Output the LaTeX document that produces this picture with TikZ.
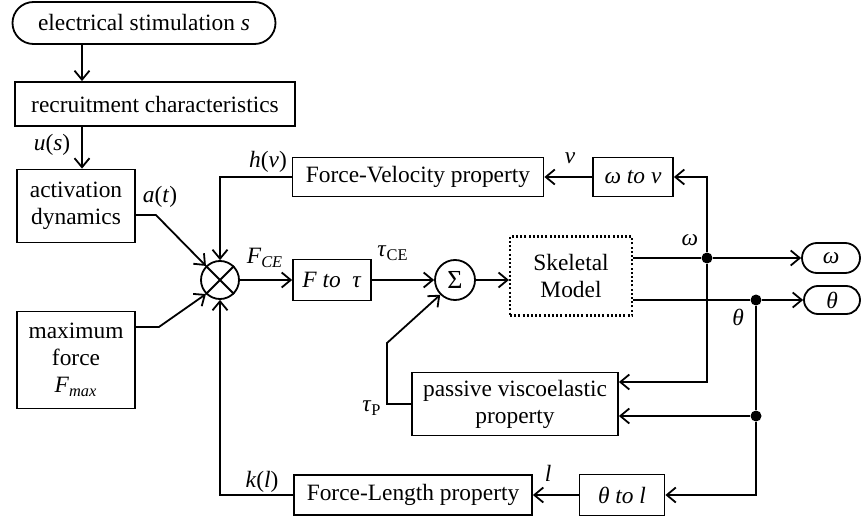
\documentclass[tikz,border=0pt]{standalone}
\usepackage{fontspec}
\setmainfont{Liberation Serif}
\usetikzlibrary{arrows.meta,calc}

\begin{document}
\begin{tikzpicture}[x=0.5pt,y=-0.5pt,line width=0.9pt]
\tikzset{block/.style = {shape=rectangle,draw,inner sep=1pt,align=center,font=\fontsize{11.7}{13.5}\selectfont}}
\tikzset{op/.style = {shape=circle,draw,inner sep=0pt,font=\fontsize{13}{13}\selectfont}}
\tikzset{dot/.style = {shape=circle,fill,inner sep=0pt,minimum size=5.5pt}}
\tikzset{lab/.style = {inner sep=0pt,font=\fontsize{11.7}{13.5}\selectfont}}
\tikzset{edge/.style = {->,> = {Straight Barb[length=4.5pt,width=7.5pt,line width=0.9pt]}}}
\useasboundingbox (0,0) rectangle (861,518);
%blocks
\node[block,rounded corners=10.5pt,minimum width=131.5pt,minimum height=21pt] (stim) at (144,23) {electrical stimulation \textit{s}};
\node[block,minimum width=140pt,minimum height=22pt] (rec) at (155,104) {recruitment characteristics};
\node[block,minimum width=59pt,minimum height=36.5pt] (act) at (76,206) {activation\\dynamics};
\node[block,minimum width=59pt,minimum height=48.5pt] (fmax) at (76,360) {maximum\\force\\\textit{F}\textsubscript{\textit{max}}};
\node[op,minimum size=19pt] (mult) at (220,280) {};
\node[block,minimum width=39pt,minimum height=20.5pt] (ftau) at (332,280) {\textit{F to~~τ}};
\node[op,minimum size=20pt] (sum) at (455,280) {Σ};
\node[block,dash pattern=on 1pt off 1.1pt,line width=1.1pt,minimum width=61pt,minimum height=39.5pt] (skel) at (571,276) {Skeletal\\Model};
\node[block,minimum width=125.5pt,minimum height=19.5pt] (fv) at (418,177) {Force-Velocity property};
\node[block,minimum width=40pt,minimum height=19.5pt] (wv) at (633,177) {\textit{ω to v}};
\node[block,minimum width=103pt,minimum height=31.5pt] (pve) at (515,404) {passive viscoelastic\\property};
\node[block,minimum width=42.5pt,minimum height=20.5pt] (tl) at (622,495) {\textit{θ to l}};
\node[block,minimum width=119pt,minimum height=20pt] (fl) at (413,495) {Force-Length property};
\node[block,rounded corners=7.5pt,minimum width=29pt,minimum height=15pt] (outw) at (831,258) {\textit{ω}};
\node[block,rounded corners=7pt,minimum width=28pt,minimum height=14pt] (outth) at (832,300) {\textit{θ}};

%junctions
\node[dot] (jw) at (707,258) {};
\node[dot] (jt) at (756,300) {};
\node[dot] (jp) at (756,416) {};
\coordinate (col) at (82,0);
\coordinate (pvc) at (387,343);

%labels
\node[lab] (us) at (52,145) {\textit{u}(\textit{s})};
\node[lab] (at) at (160,197) {\textit{a}(\textit{t})};
\node[lab] (hv) at (268,162) {\textit{h}(\textit{v})};
\node[lab] (fce) at (265,258) {\textit{F}\textsubscript{\textit{CE}}};
\node[lab] (tce) at (393,253) {\textit{τ}\textsubscript{CE}};
\node[lab] (vlab) at (570,158) {\textit{v}};
\node[lab] (wlab) at (690,240) {\textit{ω}};
\node[lab] (thlab) at (738,317) {\textit{θ}};
\node[lab] (llab) at (548,473) {\textit{l}};
\node[lab] (kl) at (262,482) {\textit{k}(\textit{l})};
\node[lab] (tp) at (372,408) {\textit{τ}\textsubscript{P}};

%edges
\draw (mult.north west) -- (mult.south east) (mult.north east) -- (mult.south west);
\draw[edge] (stim.south -| col) -- (rec.north -| col);
\draw[edge] (rec.south -| col) -- (act.north -| col);
\draw[edge] ([yshift=-4.5pt]act.east) -- ++(20,0) -- (mult.north west);
\draw[edge] ([yshift=16.5pt]fmax.east) -- ++(23,0) -- (mult.south west);
\draw[edge] (fv.west) -| (mult.north);
\draw[edge] (fl.west) -| (mult.south);

\draw[edge] (mult) -- (ftau);
\draw[edge] (ftau) -- (sum);
\draw[edge] (sum.east) -- (sum.east -| skel.west);

%---- outputs
\draw (skel.east |- jw) -- (jw);
\draw[edge] (jw) -- (outw);
\draw (skel.east |- jt) -- (jt);
\draw[edge] (jt) -- (outth);

%---- feedback
\draw[edge] (jw) |- (wv.east);
\draw[edge] (jw) |- ([yshift=11pt]pve.east);
\draw (jt) -- (jp);
\draw[edge] (jp) -- (pve.east |- jp);
\draw[edge] (jp) |- (tl.east);
\draw[edge] (wv) -- (fv);
\draw[edge] (tl) -- (fl);
\draw[edge] (pve.west) -| (pvc) -- (sum.south west);
\end{tikzpicture}
\end{document}
